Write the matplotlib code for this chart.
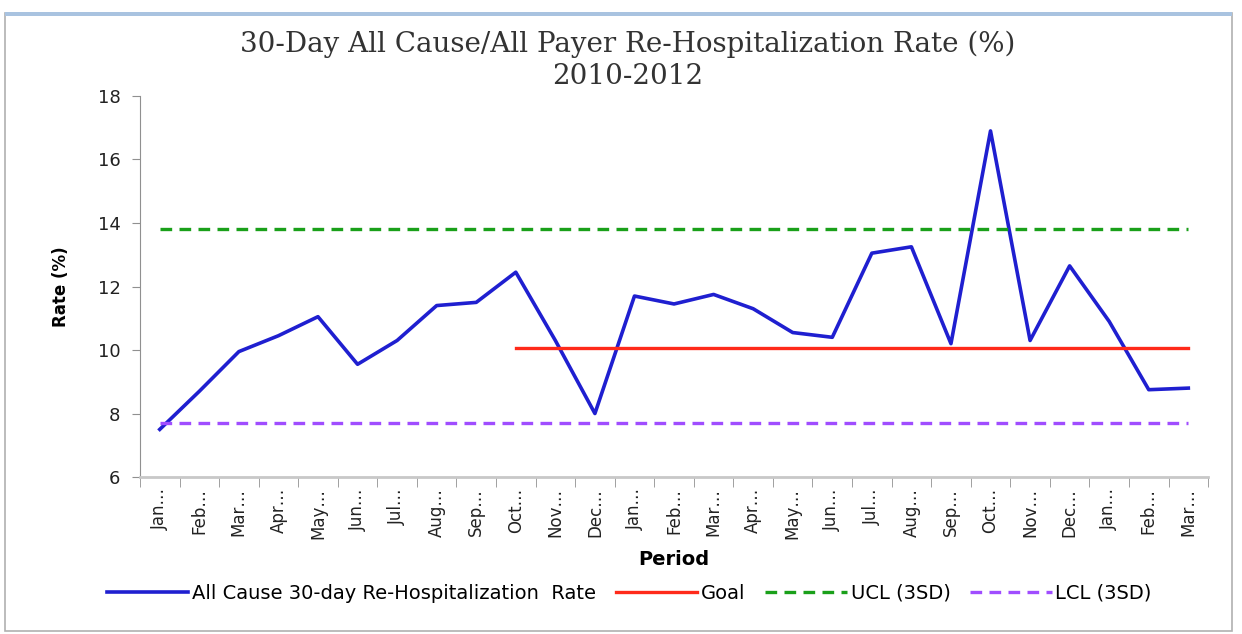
import matplotlib
matplotlib.use("Agg")
import matplotlib.pyplot as plt
from matplotlib.patches import Rectangle
import numpy as np

# monthly periods Jan 2010 - Mar 2012
months = ["Jan", "Feb", "Mar", "Apr", "May", "Jun", "Jul", "Aug", "Sep", "Oct", "Nov", "Dec",
          "Jan", "Feb", "Mar", "Apr", "May", "Jun", "Jul", "Aug", "Sep", "Oct", "Nov", "Dec",
          "Jan", "Feb", "Mar"]
rate = [7.5, 8.7, 9.95, 10.45, 11.05, 9.55, 10.3, 11.4, 11.5, 12.45, 10.3, 8.0,
        11.7, 11.45, 11.75, 11.3, 10.55, 10.4, 13.05, 13.25, 10.2, 16.9, 10.3, 12.65,
        10.9, 8.75, 8.8]
goal_start = 9   # goal line begins at Oct 2010
goal = 10.05
ucl = 13.8
lcl = 7.7

fig = plt.figure(figsize=(12.42, 6.34), dpi=100)
ax = fig.add_axes([0.1127, 0.2476, 0.86, 0.601])

# frame round the chart
fig.patches.append(Rectangle((0.004, 0.005), 0.988, 0.975, transform=fig.transFigure,
                             fill=False, edgecolor="#b0b0b0", linewidth=1.2))
fig.patches.append(Rectangle((0.004, 0.975), 0.988, 0.006, transform=fig.transFigure,
                             fill=True, facecolor="#a9c3e0", edgecolor="none"))

x = np.arange(len(months))
n = len(months)
ax.plot(x, rate, color="#1f1fd0", lw=2.6, label="All Cause 30-day Re-Hospitalization  Rate")
ax.plot(x[goal_start:], [goal] * (n - goal_start), color="#ff2a1a", lw=2.4, label="Goal")
ax.plot(x, [ucl] * n, color="#1aa01a", lw=2.4, ls=(0, (3.5, 2.2)), label="UCL (3SD)")
ax.plot(x, [lcl] * n, color="#a04dff", lw=2.4, ls=(0, (3.5, 2.2)), label="LCL (3SD)")

ax.set_xlim(-0.5, n - 0.5)
ax.set_ylim(6, 18)
ax.set_yticks(range(6, 19, 2))

ax.set_xticks(x)
ax.set_xticklabels([m + "\u2026" for m in months], rotation=90, fontsize=12, color="#222222")
ax.set_xticks(np.arange(-0.5, n, 1), minor=True)
ax.tick_params(axis="x", which="major", length=0, pad=8)
ax.tick_params(axis="x", which="minor", length=7, color="#909090", direction="out")
ax.tick_params(axis="y", length=6, color="#909090", labelsize=13, labelcolor="#222222", pad=8)

for s in ["top", "right"]:
    ax.spines[s].set_visible(False)
ax.spines["left"].set_color("#909090")
ax.spines["bottom"].set_color("#c8c8c8")
ax.spines["bottom"].set_linewidth(2)

ax.set_ylabel("Rate (%)", fontsize=12, fontweight="bold", labelpad=20)
ax.set_xlabel("Period", fontsize=14, fontweight="bold", labelpad=8)

fig.text(0.505, 0.905, "30-Day All Cause/All Payer Re-Hospitalization Rate (%)\n2010-2012",
         ha="center", va="center", fontsize=20, family="DejaVu Serif",
         color="#333333", linespacing=1.2)

ax.legend(loc="center", bbox_to_anchor=(0.458, -0.305), ncol=4, frameon=False,
          fontsize=14, handlelength=4.2, handletextpad=0.2, columnspacing=1.0)

fig.savefig("out.png", dpi=100)
